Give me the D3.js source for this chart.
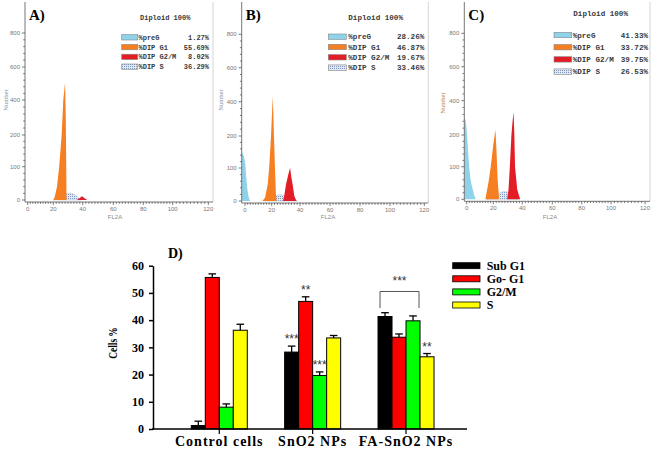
<!DOCTYPE html>
<html>
<head>
<meta charset="utf-8">
<script src="https://cdn.jsdelivr.net/npm/d3@7"></script>
<style>
  body { margin: 0; background: #fff; }
</style>
</head>
<body>
<div id="chart"></div>
<script>
// cell cycle phases (%) for control, SnO2 NPs, FA-SnO2 NPs
var groups = ["Control cells", "SnO2 NPs", "FA-SnO2 NPs"];
var panelNames = ["A)", "B)", "C)"];
var phaseNames = ["Sub G1", "Go- G1", "G2/M", "S"];
var histNames = ["%preG", "%DIP G1", "%DIP G2/M", "%DIP S"];
var subG1 = [1.27, 28.26, 41.33];
var g0g1 = [55.69, 46.87, 33.72];
var g2m = [8.02, 19.67, 39.75];
var sPhase = [36.29, 33.46, 26.53];
var errSubG1 = [1.6, 2.2, 1.4];
var errG0G1 = [1.3, 1.7, 1.2];
var errG2M = [1.2, 1.3, 1.8];
var errS = [2.2, 0.9, 1.2];
var cellTicks = [0, 10, 20, 30, 40, 50, 60];

// significance marks: [group, phase, text]
var stars = [[1, 0, "***"], [1, 1, "**"], [1, 2, "***"], [2, 3, "**"]];

// histogram axes
var fl2aTicks = [0, 20, 40, 60, 80, 100, 120];
var countTicks = [0, 100, 200, 400, 600, 800];

// histogram outlines, [FL2A channel, count]
var preGA = [];
var g1A = [[20, 0], [21, 10], [22.5, 40], [24, 100], [25.7, 200], [26.8, 400], [28, 505], [28.5, 300], [29, 0]];
var g2mA = [[36, 0], [38, 6], [39.5, 11], [41, 6], [43, 0]];
var sA = [[20, 0], [24, 9], [28, 17], [31, 21], [34, 17], [37, 7], [39, 0]];

var preGB = [[-2.4, 150], [0, 120], [1, 70], [2, 30], [3, 8], [4, 0]];
var g1B = [[13, 0], [15, 10], [17, 50], [18.1, 100], [19.5, 200], [20.3, 350], [20.8, 430], [21.6, 200], [22.3, 100], [23, 20], [23.5, 0]];
var g2mB = [[28, 0], [29, 20], [30.1, 50], [32, 85], [33, 100], [34, 70], [34.8, 50], [36, 15], [37.5, 0]];
var sB = [[14, 0], [18, 6], [22, 14], [25.5, 19], [29, 16], [33, 8], [37, 2], [38, 0]];

var preGC = [[-1.8, 315], [-1, 290], [0, 230], [0.75, 170], [1.5, 120], [2.5, 74], [4, 40], [5, 23], [6, 8], [7, 0]];
var g1C = [[14, 0], [16.3, 50], [18.1, 100], [20, 170], [21.5, 230], [22.2, 150], [23, 60], [24, 0]];
var g2mC = [[29.5, 0], [30.5, 30], [31.4, 100], [32.5, 200], [33.3, 280], [34, 336], [34.5, 200], [35, 100], [36.5, 30], [38.5, 0]];
var sC = [[15, 0], [19, 7], [23, 16], [27.5, 24], [31, 19], [34, 9], [37, 0]];

var histShapes = [
  [preGA, g1A, g2mA, sA],
  [preGB, g1B, g2mB, sB],
  [preGC, g1C, g2mC, sC]
];

// panel layout (pixels)
var panels = [
  { left: 25, right: 213, xPos: [27.7, 53.3, 82.7, 113.3, 143.3, 172.7, 208.3], yPos: [200, 166.7, 135, 100, 67, 33],
    font: 7, dipX: 140, dipY: 19.5, swX: 121.7, swW: 16, labX: 138.5, valX: 209, rowY: 37.3, rowStep: 9.8,
    numX: 6, numY: 100, numColor: "#7d8fa6", flX: 115 },
  { left: 241.7, right: 428.3, xPos: [245, 271.7, 300, 330, 360, 390, 424.3], yPos: [201, 168, 136, 101.7, 67.7, 34.3],
    font: 7.6, dipX: 348.3, dipY: 19.5, swX: 328.3, swW: 18, labX: 348.3, valX: 424.3, rowY: 36.7, rowStep: 10.3,
    numX: 221, numY: 100, numColor: "#7d8fa6", flX: 328 },
  { left: 464.3, right: 650, xPos: [466.7, 493.3, 522.3, 552.3, 581.7, 611, 645], yPos: [199.3, 166.7, 135, 100.7, 66.7, 33.3],
    font: 7.6, dipX: 573.3, dipY: 16, swX: 554, swW: 17.7, labX: 572.7, valX: 648, rowY: 35, rowStep: 12.2,
    numX: 442.3, numY: 103, numColor: "#b57a3c", flX: 550 }
];

var histColors = ["#8fd3ea", "#f67f21", "#e31d25", "url(#dots)"];
var barColors = ["#000000", "#ff0000", "#00ff00", "#ffff00"];

var svg = d3.select("#chart")
  .append("svg")
  .attr("width", 655)
  .attr("height", 450)
  .style("background", "#fff");

// dotted fill for the S phase
var pat = svg.append("defs").append("pattern")
  .attr("id", "dots")
  .attr("patternUnits", "userSpaceOnUse")
  .attr("width", 2)
  .attr("height", 2);
pat.append("rect").attr("width", 2).attr("height", 2).attr("fill", "#dfe8f4");
pat.append("rect").attr("width", 1).attr("height", 1).attr("fill", "#7f97bd");

function drawHist(i) {
  var p = panels[i];
  var g = svg.append("g");
  var x = d3.scaleLinear().domain(fl2aTicks).range(p.xPos);
  var y = d3.scaleLinear().domain(countTicks).range(p.yPos);
  var base = y(0) + 2;

  // right frame line
  g.append("line")
    .attr("x1", p.right).attr("x2", p.right)
    .attr("y1", 2).attr("y2", base)
    .attr("stroke", "#d4d4d4");

  // populations: S underneath, then preG, G1, G2/M
  var area = d3.area()
    .x(function (d) { return x(d[0]); })
    .y0(y(0))
    .y1(function (d) { return y(d[1]); });
  [3, 0, 1, 2].forEach(function (k) {
    var pts = histShapes[i][k];
    if (!pts.length) return;
    g.append("path")
      .datum(pts)
      .attr("fill", histColors[k])
      .attr("stroke", k == 3 ? "#b9c6da" : "none")
      .attr("stroke-width", 0.6)
      .attr("d", area.curve(k == 0 || k == 3 ? d3.curveMonotoneX : d3.curveLinear));
  });

  // axes
  g.append("line")
    .attr("x1", p.left).attr("x2", p.right)
    .attr("y1", base).attr("y2", base)
    .attr("stroke", "#777");
  g.append("line")
    .attr("x1", p.left).attr("x2", p.left)
    .attr("y1", 2).attr("y2", base)
    .attr("stroke", "#777");

  g.selectAll(".xminor")
    .data(d3.range(0, 121, 2))
    .enter().append("line")
    .attr("x1", function (d) { return x(d); })
    .attr("x2", function (d) { return x(d); })
    .attr("y1", base)
    .attr("y2", function (d) { return base + (d % 20 == 0 ? 3 : 1.8); })
    .attr("stroke", "#444")
    .attr("stroke-width", 0.7);

  g.selectAll(".yminor")
    .data(d3.range(0, 200, 20).concat(d3.range(200, 801, 40)))
    .enter().append("line")
    .attr("x1", p.left)
    .attr("x2", function (d) { return p.left - (countTicks.indexOf(d) >= 0 ? 3 : 1.8); })
    .attr("y1", function (d) { return y(d); })
    .attr("y2", function (d) { return y(d); })
    .attr("stroke", "#444")
    .attr("stroke-width", 0.7);

  g.selectAll(".xlab")
    .data(fl2aTicks)
    .enter().append("text")
    .attr("x", function (d) { return x(d); })
    .attr("y", base + 9)
    .attr("text-anchor", "middle")
    .style("font", "6px 'Liberation Sans', sans-serif")
    .style("fill", "#777")
    .text(function (d) { return d; });

  g.selectAll(".ylab")
    .data(countTicks)
    .enter().append("text")
    .attr("x", p.left - 5)
    .attr("y", function (d) { return y(d); })
    .attr("dy", "0.35em")
    .attr("text-anchor", "end")
    .style("font", "6px 'Liberation Sans', sans-serif")
    .style("fill", "#777")
    .text(function (d) { return d; });

  g.append("text")
    .attr("transform", "translate(" + p.numX + "," + p.numY + ") rotate(-90)")
    .attr("text-anchor", "middle")
    .attr("dy", "0.35em")
    .style("font", "6.5px 'Liberation Serif', serif")
    .style("fill", p.numColor)
    .text("Number");

  g.append("text")
    .attr("x", p.flX)
    .attr("y", 219)
    .attr("text-anchor", "middle")
    .style("font", "6px 'Liberation Sans', sans-serif")
    .style("fill", "#8a8a8a")
    .text("FL2A");

  // panel letter
  g.append("text")
    .attr("x", p.left + 4)
    .attr("y", 20)
    .style("font", "bold 15px 'Liberation Serif', serif")
    .style("fill", "#000")
    .text(panelNames[i]);

  // legend box
  var mono = "bold " + p.font + "px 'Liberation Mono', monospace";
  g.append("text")
    .attr("x", p.dipX)
    .attr("y", p.dipY)
    .style("font", mono)
    .style("fill", "#3a3a3a")
    .text("Diploid 100%");

  var vals = [subG1[i], g0g1[i], g2m[i], sPhase[i]];
  histNames.forEach(function (name, k) {
    var ry = p.rowY + k * p.rowStep;
    g.append("rect")
      .attr("x", p.swX)
      .attr("y", ry - 2.7)
      .attr("width", p.swW)
      .attr("height", 5.4)
      .attr("fill", histColors[k])
      .attr("stroke", "#888")
      .attr("stroke-width", 0.6);
    g.append("text")
      .attr("x", p.labX)
      .attr("y", ry)
      .attr("dy", "0.35em")
      .style("font", mono)
      .style("fill", "#3a3a3a")
      .text(name);
    g.append("text")
      .attr("x", p.valX)
      .attr("y", ry)
      .attr("dy", "0.35em")
      .attr("text-anchor", "end")
      .style("font", mono)
      .style("fill", "#3a3a3a")
      .text(vals[k].toFixed(2) + "%");
  });
}

drawHist(0);
drawHist(1);
drawHist(2);

// ---- bar chart D ----
var series = [subG1, g0g1, g2m, sPhase];
var errs = [errSubG1, errG0G1, errG2M, errS];

var y = d3.scaleLinear().domain([0, 60]).range([429, 265.7]);
var x0 = d3.scaleBand().domain(groups).range([172.6, 452.7]);
var x1 = d3.scaleBand().domain(phaseNames).range([-28, 28]);

function barX(gi, k) { return x0(groups[gi]) + x0.bandwidth() / 2 + x1(phaseNames[k]); }
function barMid(gi, k) { return barX(gi, k) + x1.bandwidth() / 2; }

var chart = svg.append("g");

series.forEach(function (vals, k) {
  chart.selectAll(".bar" + k)
    .data(vals)
    .enter().append("rect")
    .attr("x", function (d, gi) { return barX(gi, k); })
    .attr("y", function (d) { return y(d); })
    .attr("width", x1.bandwidth())
    .attr("height", function (d) { return y(0) - y(d); })
    .attr("fill", barColors[k])
    .attr("stroke", "#000")
    .attr("stroke-width", 1);

  // error bars, upper half only
  vals.forEach(function (d, gi) {
    var cx = barMid(gi, k), top = y(d + errs[k][gi]);
    chart.append("line")
      .attr("x1", cx).attr("x2", cx)
      .attr("y1", y(d)).attr("y2", top)
      .attr("stroke", "#000").attr("stroke-width", 1.3);
    chart.append("line")
      .attr("x1", cx - 3.8).attr("x2", cx + 3.8)
      .attr("y1", top).attr("y2", top)
      .attr("stroke", "#000").attr("stroke-width", 1.3);
  });
});

// significance stars
stars.forEach(function (s) {
  var v = series[s[1]][s[0]] + errs[s[1]][s[0]];
  chart.append("text")
    .attr("x", barMid(s[0], s[1]))
    .attr("y", y(v) - 3)
    .attr("text-anchor", "middle")
    .style("font", "12px 'Liberation Sans', sans-serif")
    .style("fill", "#333")
    .text(s[2]);
});

// bracket over FA-SnO2 Sub G1 .. G2/M
var bTop = d3.max([series[0][2] + errs[0][2], series[2][2] + errs[2][2]]);
var bl = barX(2, 0) + 2, br = barX(2, 2) + x1.bandwidth() - 1;
chart.append("path")
  .attr("d", "M" + bl + "," + y(bTop + 1.7) + "V" + y(bTop + 7.8) + "H" + br + "V" + y(bTop + 1.7))
  .attr("fill", "none")
  .attr("stroke", "#555")
  .attr("stroke-width", 1);
chart.append("text")
  .attr("x", (bl + br) / 2)
  .attr("y", y(bTop + 7.8) - 6)
  .attr("text-anchor", "middle")
  .style("font", "12px 'Liberation Sans', sans-serif")
  .style("fill", "#333")
  .text("***");

// axes
var yAxis = chart.append("g")
  .attr("transform", "translate(153,0)")
  .call(d3.axisLeft(y).tickValues(cellTicks).tickSize(4).tickSizeOuter(0).tickPadding(5));
yAxis.select(".domain").attr("stroke-width", 1.5);
yAxis.selectAll("line").attr("stroke-width", 1.5);
yAxis.selectAll("text")
  .style("font", "bold 12px 'Liberation Serif', serif")
  .style("fill", "#000");

var xAxis = chart.append("g")
  .attr("transform", "translate(0," + y(0) + ")")
  .call(d3.axisBottom(x0).tickSize(5).tickSizeOuter(0).tickPadding(2));
xAxis.select(".domain").remove();
xAxis.selectAll("line").attr("stroke-width", 1.2);
xAxis.selectAll("text")
  .style("font", "bold 14px 'Liberation Serif', serif")
  .style("letter-spacing", "1px")
  .style("fill", "#000");
chart.append("line")
  .attr("x1", 152).attr("x2", 467)
  .attr("y1", y(0)).attr("y2", y(0))
  .attr("stroke", "#000").attr("stroke-width", 1.5);

chart.append("text")
  .attr("transform", "translate(112,343) rotate(-90) scale(0.72,1)")
  .attr("text-anchor", "middle")
  .attr("dy", "0.35em")
  .style("font", "bold 13px 'Liberation Serif', serif")
  .text("Cells %");

chart.append("text")
  .attr("x", 168)
  .attr("y", 258)
  .style("font", "bold 14px 'Liberation Serif', serif")
  .text("D)");

// legend
phaseNames.forEach(function (name, k) {
  var ry = 265.7 + k * 13.1;
  chart.append("rect")
    .attr("x", 452.7).attr("y", ry - 3)
    .attr("width", 27.3).attr("height", 6)
    .attr("fill", barColors[k])
    .attr("stroke", "#000").attr("stroke-width", 0.8);
  chart.append("text")
    .attr("x", 486.7).attr("y", ry)
    .attr("dy", "0.35em")
    .style("font", "bold 12px 'Liberation Serif', serif")
    .text(name);
});
</script>
</body>
</html>
